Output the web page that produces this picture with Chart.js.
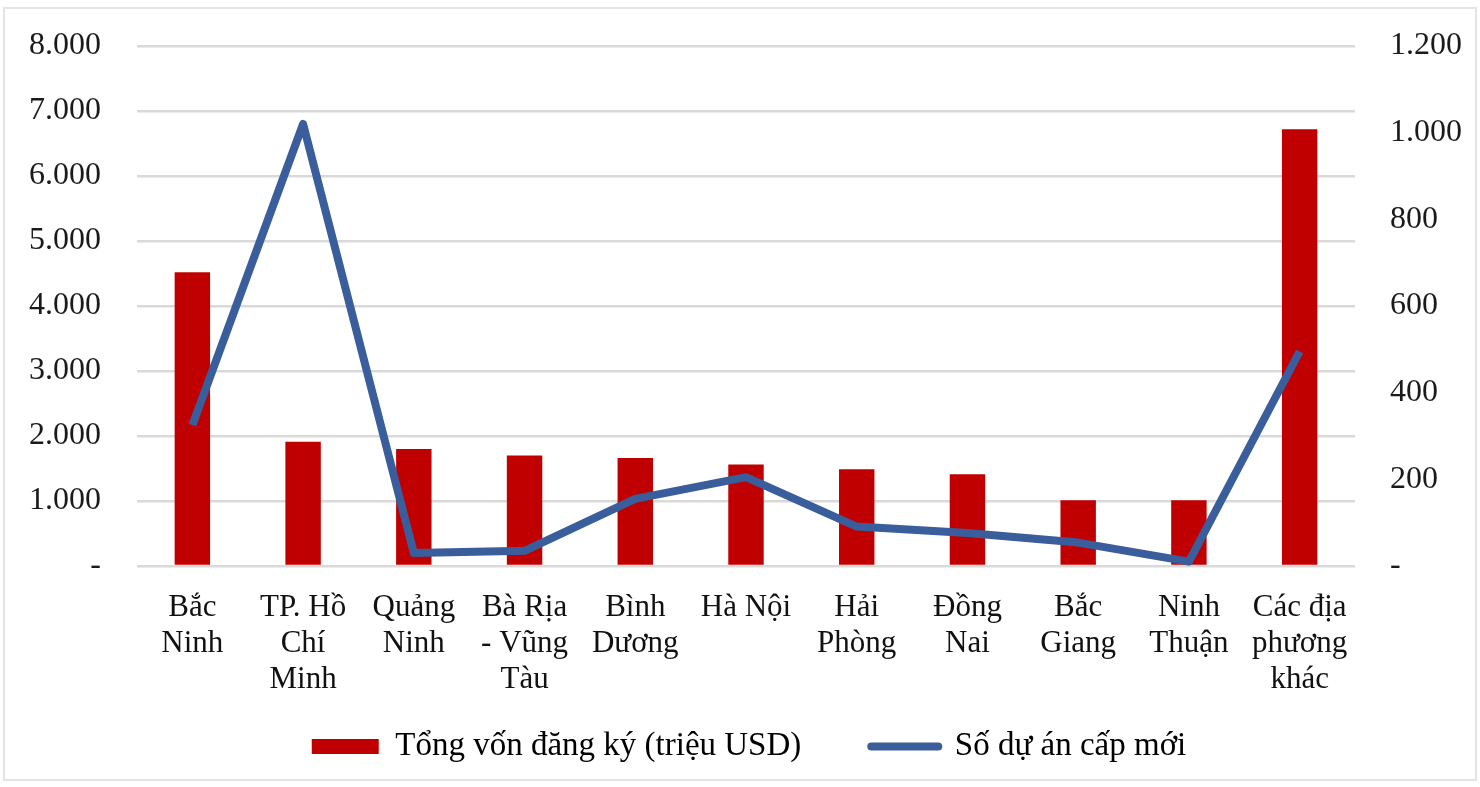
<!DOCTYPE html>
<html lang="vi">
<head>
<meta charset="utf-8">
<title>FDI theo địa phương</title>
<script src="https://cdn.jsdelivr.net/npm/chart.js@4.4.1/dist/chart.umd.min.js"></script>
<style>
  html, body { margin: 0; padding: 0; background: #ffffff; }
  #wrap { position: relative; width: 1480px; height: 787px; overflow: hidden; }
  #frame {
    position: absolute; left: 3px; top: 7px; width: 1474px; height: 774px;
    border: 2px solid #e4e4e4; box-sizing: border-box; pointer-events: none;
  }
  canvas { display: block; }
</style>
</head>
<body>
<div id="wrap">
  <canvas id="chart" width="1480" height="787"></canvas>
  <div id="frame"></div>
</div>
<script>
// Địa phương (nhãn trục hoành, xuống dòng như bản gốc)
const provinces = [
  ['Bắc', 'Ninh'],
  ['TP. Hồ', 'Chí', 'Minh'],
  ['Quảng', 'Ninh'],
  ['Bà Rịa', '- Vũng', 'Tàu'],
  ['Bình', 'Dương'],
  ['Hà Nội'],
  ['Hải', 'Phòng'],
  ['Đồng', 'Nai'],
  ['Bắc', 'Giang'],
  ['Ninh', 'Thuận'],
  ['Các địa', 'phương', 'khác']
];

// Tổng vốn đăng ký (triệu USD) – trục trái
const registeredCapital = [4520, 1910, 1800, 1700, 1660, 1560, 1490, 1410, 1010, 1010, 6720];

// Số dự án cấp mới – trục phải
const newProjects = [325, 1020, 30, 35, 155, 205, 91, 76, 54, 10, 495];

// Thang chia của hai trục
const leftTicks = [0, 1000, 2000, 3000, 4000, 5000, 6000, 7000, 8000];
const rightTicks = [0, 200, 400, 600, 800, 1000, 1200];

const seriesNames = ['Tổng vốn đăng ký (triệu USD)', 'Số dự án cấp mới'];

const RED = '#C00000';
const BLUE = '#3A5D9C';
const SERIF = '"Liberation Serif", "Times New Roman", serif';

// Định dạng số kiểu Việt Nam: dấu chấm ngăn nghìn, số 0 hiển thị "-"
function viNumber(v) {
  if (v === 0) return '-';
  return String(v).replace(/\B(?=(\d{3})+(?!\d))/g, '.');
}

function tickSetter(values) {
  return function (scale) {
    scale.ticks = values.map(v => ({ value: v }));
  };
}

// Trục tung: cố định bề rộng, bỏ phần đệm dọc do khoảng cách nhãn sinh ra
function fixVertical(width) {
  return function (scale) {
    scale.width = width;
    scale.paddingTop = 0;
    scale.paddingBottom = 0;
  };
}

// Nhãn trục hoành nhiều dòng được phép tràn xuống dưới hộp trục
const labelRoom = {
  id: 'labelRoom',
  afterLayout(chart) {
    chart.scales.x.bottom = chart.height;
  }
};

new Chart(document.getElementById('chart'), {
  plugins: [labelRoom],
  data: {
    labels: provinces,
    datasets: [
      {
        type: 'bar',
        label: seriesNames[0],
        data: registeredCapital,
        backgroundColor: RED,
        borderWidth: 0,
        yAxisID: 'y',
        order: 2,
        categoryPercentage: 1,
        barPercentage: 0.32
      },
      {
        type: 'line',
        label: seriesNames[1],
        data: newProjects,
        borderColor: BLUE,
        backgroundColor: BLUE,
        borderWidth: 8,
        borderJoinStyle: 'round',
        borderCapStyle: 'butt',
        pointRadius: 0,
        pointHoverRadius: 0,
        tension: 0,
        fill: false,
        yAxisID: 'y1',
        order: 1
      }
    ]
  },
  options: {
    responsive: false,
    animation: false,
    events: [],
    layout: { padding: { left: 18, right: 0, top: 46, bottom: 14 } },
    plugins: {
      title: { display: false },
      tooltip: { enabled: false },
      legend: {
        position: 'bottom',
        align: 'center',
        labels: {
          usePointStyle: true,
          pointStyleWidth: 67,
          boxHeight: 15,
          padding: 70,
          color: '#111111',
          font: { family: SERIF, size: 33 },
          generateLabels: function () {
            return [
              {
                text: seriesNames[0], fillStyle: RED, strokeStyle: RED,
                lineWidth: 0, pointStyle: 'rect', hidden: false, datasetIndex: 0
              },
              {
                text: seriesNames[1], fillStyle: BLUE, strokeStyle: BLUE,
                lineWidth: 8, lineCap: 'round', pointStyle: 'line', hidden: false, datasetIndex: 1
              }
            ];
          }
        }
      }
    },
    scales: {
      x: {
        type: 'category',
        offset: true,
        grid: { display: false, drawTicks: false },
        border: { display: false },
        ticks: {
          padding: 24,
          maxRotation: 0,
          autoSkip: false,
          color: '#111111',
          font: { family: SERIF, size: 31, lineHeight: '36px' }
        },
        afterFit: function (scale) { scale.height = 94; }
      },
      y: {
        type: 'linear',
        position: 'left',
        min: leftTicks[0],
        max: leftTicks[leftTicks.length - 1],
        afterBuildTicks: tickSetter(leftTicks),
        grid: { color: '#d9d9d9', lineWidth: 2.5, drawTicks: false },
        border: { display: false },
        ticks: {
          padding: 36,
          color: '#1a1a1a',
          font: { family: SERIF, size: 32 },
          callback: v => viNumber(v)
        },
        afterFit: fixVertical(119)
      },
      y1: {
        type: 'linear',
        position: 'right',
        min: rightTicks[0],
        max: rightTicks[rightTicks.length - 1],
        afterBuildTicks: tickSetter(rightTicks),
        grid: { display: false, drawTicks: false },
        border: { display: false },
        ticks: {
          padding: 35,
          color: '#1a1a1a',
          font: { family: SERIF, size: 32 },
          callback: v => viNumber(v)
        },
        afterFit: fixVertical(125)
      }
    }
  }
});
</script>
</body>
</html>
